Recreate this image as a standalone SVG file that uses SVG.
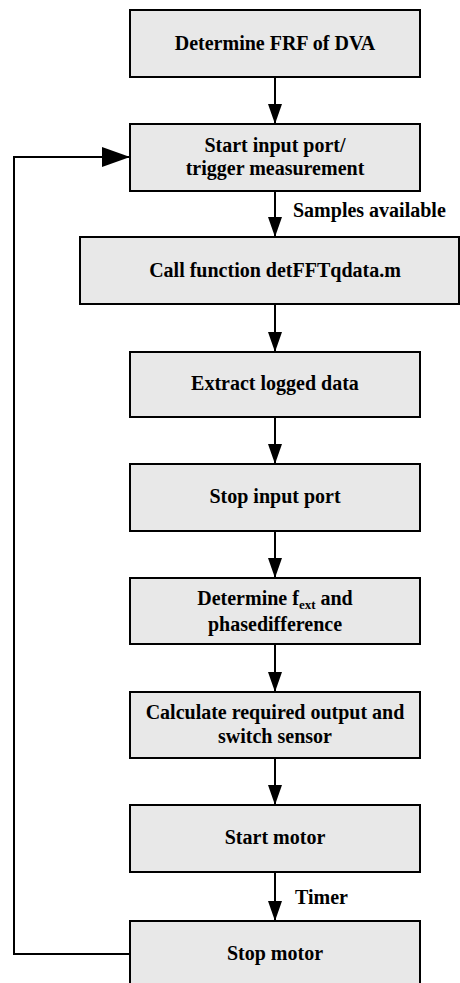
<svg xmlns="http://www.w3.org/2000/svg" width="460" height="983" viewBox="0 0 460 983">
  <style>
    .box { fill: #e8e8e8; stroke: #000; stroke-width: 2; }
    .lbl { font-family: "Liberation Serif", "Times New Roman", serif; font-weight: bold; font-size: 20px; fill: #000; text-anchor: middle; }
    .edge-lbl { font-family: "Liberation Serif", "Times New Roman", serif; font-weight: bold; font-size: 20px; fill: #000; }
    .sub { font-size: 13px; }
    .wire { fill: none; stroke: #000; stroke-width: 2; }
  </style>
  <defs>
    <marker id="arrow" markerUnits="userSpaceOnUse" markerWidth="20" markerHeight="14" refX="20" refY="7" orient="auto">
      <path d="M0,0 L20,7 L0,14 z" fill="#000"/>
    </marker>
    <marker id="arrow-big" markerUnits="userSpaceOnUse" markerWidth="28" markerHeight="20" refX="28" refY="10" orient="auto">
      <path d="M0,0 L28,10 L0,20 z" fill="#000"/>
    </marker>
  </defs>

  <rect width="460" height="983" fill="#fff"/>

  <g id="connectors">
    <line class="wire" x1="275" y1="77" x2="275" y2="124" marker-end="url(#arrow)"/>
    <line class="wire" x1="275" y1="191" x2="275" y2="237" marker-end="url(#arrow)"/>
    <line class="wire" x1="275" y1="304" x2="275" y2="352" marker-end="url(#arrow)"/>
    <line class="wire" x1="275" y1="417" x2="275" y2="464" marker-end="url(#arrow)"/>
    <line class="wire" x1="275" y1="531" x2="275" y2="578" marker-end="url(#arrow)"/>
    <line class="wire" x1="275" y1="644" x2="275" y2="692" marker-end="url(#arrow)"/>
    <line class="wire" x1="275" y1="758" x2="275" y2="805" marker-end="url(#arrow)"/>
    <line class="wire" x1="275" y1="872" x2="275" y2="921" marker-end="url(#arrow)"/>
    <path class="wire" d="M130,954 H14 V157 H130" marker-end="url(#arrow-big)"/>
    <text class="edge-lbl" x="293" y="217">Samples available</text>
    <text class="edge-lbl" x="295" y="904">Timer</text>
  </g>

  <g id="frf">
    <rect class="box" x="130" y="10" width="290" height="67"/>
    <text class="lbl" x="275" y="50">Determine FRF of DVA</text>
  </g>

  <g id="start-input">
    <rect class="box" x="130" y="124" width="290" height="67"/>
    <text class="lbl" x="275" y="152">Start input port/</text>
    <text class="lbl" x="275" y="175">trigger measurement</text>
  </g>

  <g id="call-function">
    <rect class="box" x="80" y="237" width="379" height="67"/>
    <text class="lbl" x="275" y="277">Call function detFFTqdata.m</text>
  </g>

  <g id="extract">
    <rect class="box" x="130" y="352" width="290" height="65"/>
    <text class="lbl" x="275" y="390">Extract logged data</text>
  </g>

  <g id="stop-input">
    <rect class="box" x="130" y="464" width="290" height="67"/>
    <text class="lbl" x="275" y="503">Stop input port</text>
  </g>

  <g id="determine-fext">
    <rect class="box" x="130" y="578" width="290" height="66"/>
    <text class="lbl" x="275" y="605">Determine f<tspan class="sub" dy="4">ext</tspan><tspan dy="-4"> and</tspan></text>
    <text class="lbl" x="275" y="631">phasedifference</text>
  </g>

  <g id="calculate">
    <rect class="box" x="130" y="692" width="290" height="66"/>
    <text class="lbl" x="275" y="719">Calculate required output and</text>
    <text class="lbl" x="275" y="743">switch sensor</text>
  </g>

  <g id="start-motor">
    <rect class="box" x="130" y="805" width="290" height="67"/>
    <text class="lbl" x="275" y="844">Start motor</text>
  </g>

  <g id="stop-motor">
    <rect class="box" x="130" y="921" width="290" height="67"/>
    <text class="lbl" x="275" y="960">Stop motor</text>
  </g>
</svg>
